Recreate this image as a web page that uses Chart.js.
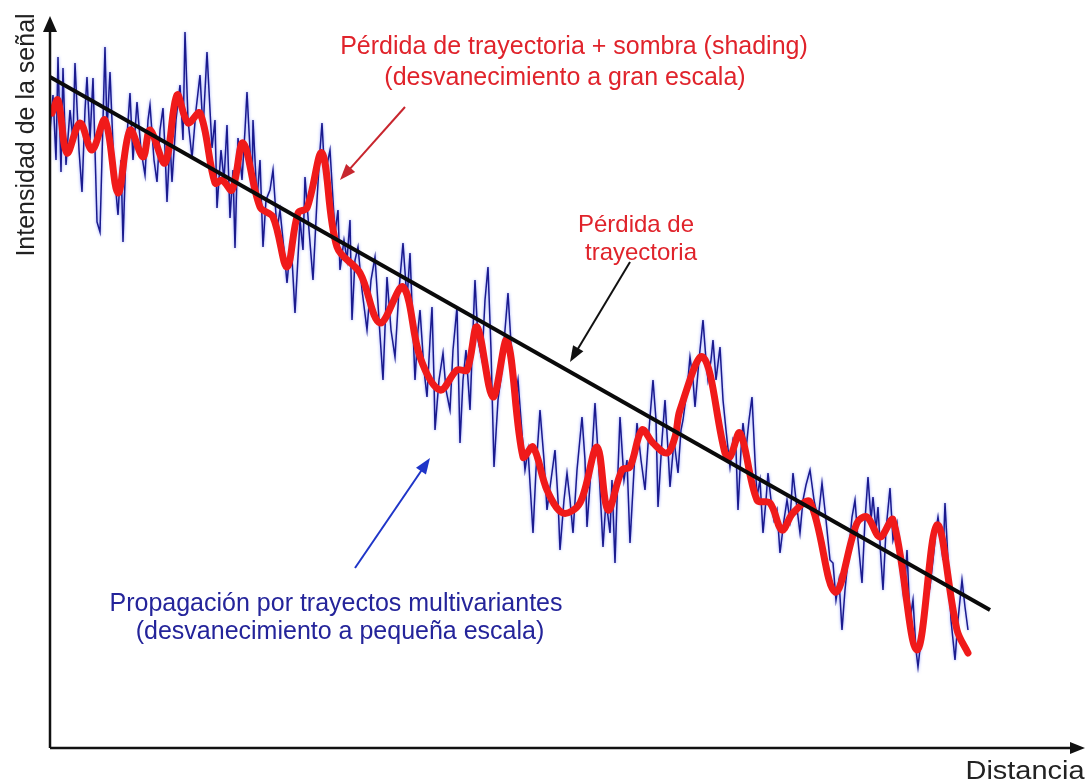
<!DOCTYPE html>
<html>
<head>
<meta charset="utf-8">
<script src="https://cdn.jsdelivr.net/npm/chart.js@4.4.1/dist/chart.umd.min.js"></script>
<style>
  html, body { margin: 0; padding: 0; background: #fff; }
  canvas { display: block; }
</style>
</head>
<body>
<canvas id="chart" width="1086" height="784"></canvas>
<script>
// Distancia / Intensidad (arbitrary units)

// path loss trend (straight line)
const trendX = [0, 940];
const trendY = [671, 138];

// path loss + shadowing (red, smooth)
const redX = [2,8,17,30,42,55,68,80,93,100,115,127,138,150,165,172,182,193,210,223,
  237,248,257,272,287,310,330,353,370,390,407,417,427,443,457,473,483,497,513,530,
  547,558,572,580,592,603,617,625,630,653,675,680,690,707,720,732,743,760,785,807,
  817,830,843,867,887,907,918];
const redY = [635,648,595,625,598,628,555,618,591,618,585,653,625,635,565,568,558,605,541,531,
  481,535,540,595,501,475,425,461,391,358,378,378,421,351,408,291,301,258,235,245,
  301,238,278,281,318,305,295,311,338,391,295,291,315,248,245,218,235,246,156,225,
  231,211,228,98,223,118,95];

// multipath (blue, noisy)
const blueX = [0,3,6,8,11,13,16,20,23,25,
  29,32,35,37,40,43,47,50,53,55,
  57,60,64,68,71,73,76,80,83,87,
  91,95,98,100,104,107,110,113,115,117,
  120,122,126,130,133,135,138,142,146,150,
  153,157,160,162,165,167,171,174,177,180,
  183,185,188,192,195,197,200,202,203,207,
  210,213,216,220,223,227,230,234,237,241,
  245,250,253,255,259,263,267,270,272,275,
  277,280,283,285,288,290,294,297,300,302,
  305,308,312,317,321,325,329,333,337,341,
  345,349,353,357,360,363,365,368,370,374,
  377,380,382,384,385,389,393,396,400,403,
  407,410,413,416,420,423,425,428,432,435,
  438,441,444,448,452,455,458,462,465,468,
  472,475,478,483,486,490,494,497,501,505,
  508,510,514,517,520,523,527,532,535,537,
  541,545,549,553,556,560,562,565,568,570,
  574,577,580,584,587,591,595,599,603,606,
  608,612,615,618,620,624,628,631,633,637,
  640,643,645,649,653,656,658,661,663,666,
  670,673,676,680,683,686,688,691,693,696,
  699,702,705,707,710,713,716,718,721,724,
  727,730,734,737,740,743,746,750,753,756,
  760,764,768,772,776,780,783,786,789,792,
  795,798,802,805,808,812,815,818,821,823,
  826,828,831,833,836,840,843,847,850,854,
  857,860,863,866,868,871,874,877,880,883,
  886,888,891,893,895,898,901,905,908,912,
  915,918];
const blueY = [618,653,588,691,576,680,583,638,608,685,
  598,556,638,671,608,670,526,516,628,701,
  618,676,578,533,588,506,598,655,588,646,
  598,573,628,643,588,566,618,640,598,546,
  608,566,628,663,608,716,628,590,638,673,
  618,696,638,600,628,540,598,568,623,530,
  578,500,610,568,618,656,598,556,628,548,
  588,501,548,558,578,518,538,498,465,508,
  435,528,498,571,518,468,548,598,625,568,
  583,598,548,515,538,478,508,488,528,428,
  488,501,458,418,468,491,428,368,471,418,
  391,458,505,448,495,418,368,418,438,378,
  351,408,441,368,318,368,395,358,338,398,
  441,305,368,398,338,418,468,408,388,448,
  481,398,281,348,378,418,455,388,348,368,
  315,278,298,215,278,338,288,238,268,298,
  248,198,248,275,248,215,278,331,288,221,
  278,345,278,201,248,215,268,185,278,331,
  268,288,205,278,325,288,258,318,368,328,
  241,308,348,298,261,308,275,318,328,358,
  391,368,341,388,428,388,368,388,408,368,
  401,348,318,281,308,298,238,298,325,298,
  328,351,288,251,268,215,248,275,248,228,
  238,195,228,248,228,275,248,215,248,263,
  278,248,228,265,228,188,185,148,168,118,
  158,188,231,248,208,165,228,271,228,251,
  218,241,188,158,218,260,208,225,188,148,
  198,128,148,98,81,108,128,148,161,188,
  218,231,208,188,245,188,128,88,128,168,
  141,118];

const xLabel = "Distancia";
const yLabel = "Intensidad de la señal";

// annotation texts + arrows, in data units
const notes = [
  { text: "Pérdida de trayectoria + sombra (shading)", x: 524, y: 701, size: 25, color: "#e0232b" },
  { text: "(desvanecimiento a gran escala)", x: 515, y: 670, size: 25, color: "#e0232b" },
  { text: "Pérdida de", x: 586, y: 523, size: 24, color: "#e0232b" },
  { text: "trayectoria", x: 591, y: 495, size: 24, color: "#e0232b" },
  { text: "Propagación por trayectos multivariantes", x: 286, y: 144, size: 25, color: "#24249a" },
  { text: "(desvanecimiento a pequeña escala)", x: 290, y: 116, size: 25, color: "#24249a" }
];
const arrows = [
  { from: [355, 641], to: [290, 568], color: "#c8262e" },
  { from: [580, 486], to: [520, 386], color: "#111111" },
  { from: [305, 180], to: [380, 290], color: "#1f35c8" }
];

function toPts(xs, ys) {
  return xs.map((x, i) => ({ x: x, y: ys[i] }));
}

function arrowHead(ctx, x1, y1, x2, y2, len, half) {
  const a = Math.atan2(y2 - y1, x2 - x1);
  ctx.beginPath();
  ctx.moveTo(x2, y2);
  ctx.lineTo(x2 - len * Math.cos(a) + half * Math.sin(a), y2 - len * Math.sin(a) - half * Math.cos(a));
  ctx.lineTo(x2 - len * Math.cos(a) - half * Math.sin(a), y2 - len * Math.sin(a) + half * Math.cos(a));
  ctx.closePath();
  ctx.fill();
}

const FONT = "'Liberation Sans', Arial, sans-serif";

// soft halo round the blue trace
const halo = {
  id: "halo",
  beforeDatasetDraw(chart, args) {
    if (args.index === 2) {
      chart.ctx.save();
      chart.ctx.shadowColor = "rgba(90,110,255,0.7)";
      chart.ctx.shadowBlur = 3;
    }
  },
  afterDatasetDraw(chart, args) {
    if (args.index === 2) chart.ctx.restore();
  }
};

// axes with arrows, labels, notes
const decor = {
  id: "decor",
  afterDatasetsDraw(chart) {
    const ctx = chart.ctx;
    const ca = chart.chartArea;
    const xs = chart.scales.x, ys = chart.scales.y;
    ctx.save();
    ctx.strokeStyle = "#111";
    ctx.fillStyle = "#111";
    ctx.lineWidth = 2.5;
    ctx.beginPath();
    ctx.moveTo(ca.left, ca.bottom);
    ctx.lineTo(ca.left, ca.top + 12);
    ctx.moveTo(ca.left, ca.bottom);
    ctx.lineTo(ca.right - 12, ca.bottom);
    ctx.stroke();
    arrowHead(ctx, ca.left, ca.bottom, ca.left, ca.top, 16, 7);
    arrowHead(ctx, ca.left, ca.bottom, ca.right, ca.bottom, 15, 6);

    ctx.textAlign = "center";
    ctx.textBaseline = "middle";
    ctx.fillStyle = "#222";
    // x label, a little stretched like the picture
    ctx.font = "25px " + FONT;
    ctx.save();
    ctx.translate(1025, 772);
    ctx.scale(119 / ctx.measureText(xLabel).width, 1);
    ctx.fillText(xLabel, 0, 0);
    ctx.restore();
    ctx.save();
    ctx.translate(27, 135);
    ctx.rotate(-Math.PI / 2);
    ctx.fillText(yLabel, 0, 0);
    ctx.restore();

    notes.forEach(n => {
      ctx.font = n.size + "px " + FONT;
      ctx.fillStyle = n.color;
      ctx.fillText(n.text, xs.getPixelForValue(n.x), ys.getPixelForValue(n.y));
    });

    arrows.forEach(a => {
      const x1 = xs.getPixelForValue(a.from[0]), y1 = ys.getPixelForValue(a.from[1]);
      const x2 = xs.getPixelForValue(a.to[0]), y2 = ys.getPixelForValue(a.to[1]);
      ctx.strokeStyle = a.color;
      ctx.fillStyle = a.color;
      ctx.lineWidth = 2;
      ctx.beginPath();
      ctx.moveTo(x1, y1);
      ctx.lineTo(x2 - (x2 - x1) * 0.08, y2 - (y2 - y1) * 0.08);
      ctx.stroke();
      arrowHead(ctx, x1, y1, x2, y2, 16, 6);
    });
    ctx.restore();
  }
};

const chart = new Chart(document.getElementById("chart"), {
  type: "line",
  data: {
    datasets: [
      {
        // trend on top
        label: "Pérdida de trayectoria",
        data: toPts(trendX, trendY),
        borderColor: "#0a0a0a",
        borderWidth: 4,
        pointRadius: 0,
        tension: 0
      },
      {
        label: "Pérdida de trayectoria + sombra",
        data: toPts(redX, redY),
        borderColor: "#f01a1a",
        borderWidth: 7,
        pointRadius: 0,
        tension: 0.35,
        borderCapStyle: "round",
        borderJoinStyle: "round"
      },
      {
        label: "Multitrayecto",
        data: toPts(blueX, blueY),
        borderColor: "#1a1a8e",
        borderWidth: 1.5,
        pointRadius: 0,
        tension: 0
      }
    ]
  },
  options: {
    responsive: false,
    animation: false,
    layout: { padding: { left: 50, right: 1, top: 16, bottom: 36 } },
    plugins: { legend: { display: false }, tooltip: { enabled: false } },
    scales: {
      x: { type: "linear", min: 0, max: 1035, display: false },
      y: { type: "linear", min: 0, max: 732, display: false }
    }
  },
  plugins: [halo, decor]
});
</script>
</body>
</html>
